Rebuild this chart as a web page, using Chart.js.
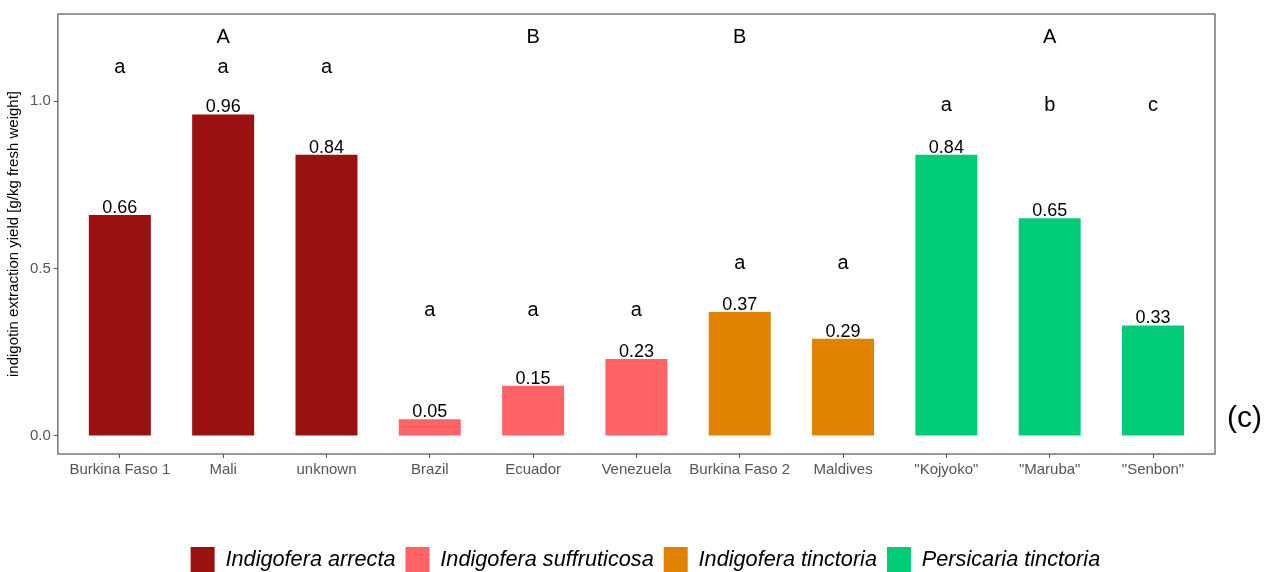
<!DOCTYPE html>
<html lang="en">
  <head>
    <meta charset="UTF-8" />
    <title>Indigotin extraction yield</title>
    <style>
      html, body { margin: 0; padding: 0; background: #fff; }
      .chartBox { width: 1266px; height: 572px; }
    </style>
  </head>
  <body>
    <div class="chartBox">
      <canvas id="myChart"></canvas>
    </div>
    <script src="https://cdn.jsdelivr.net/npm/chart.js"></script>
    <script>
      // data
      const categories = ["Burkina Faso 1", "Mali", "unknown", "Brazil", "Ecuador", "Venezuela",
        "Burkina Faso 2", "Maldives", "\"Kojyoko\"", "\"Maruba\"", "\"Senbon\""];
      const yields = [0.66, 0.96, 0.84, 0.05, 0.15, 0.23, 0.37, 0.29, 0.84, 0.65, 0.33];
      const speciesOf = [0, 0, 0, 1, 1, 1, 2, 2, 3, 3, 3];
      const species = ["Indigofera arrecta", "Indigofera suffruticosa", "Indigofera tinctoria", "Persicaria tinctoria"];
      const speciesColors = ["#9b1111", "#ff6366", "#e08200", "#00cc78"];
      // significance letters (per accession) and their heights
      const sigLetters = ["a", "a", "a", "a", "a", "a", "a", "a", "a", "b", "c"];
      const sigY = [1.099, 1.099, 1.099, 0.374, 0.374, 0.374, 0.515, 0.515, 0.988, 0.988, 0.988];
      // group letters (per species)
      const groupLetters = ["A", "B", "B", "A"];
      const groupAt = [1, 4, 6, 9];
      const groupY = 1.189;
      const yTicks = [0, 0.5, 1.0];

      const FONT = "'Liberation Sans', Arial, sans-serif";

      const datasets = species.map(function (name, s) {
        const pts = [];
        for (let i = 0; i < yields.length; i++) {
          if (speciesOf[i] === s) pts.push({ x: i, y: yields[i] });
        }
        return {
          label: name,
          data: pts,
          backgroundColor: speciesColors[s],
          borderWidth: 0,
          grouped: false,
          barPercentage: 0.6,
          categoryPercentage: 1,
        };
      });

      const annotations = {
        id: "annotations",
        afterLayout(chart) {
          // legend sits a bit right of the panel centre in the original
          chart.legend.left += 9;
          chart.legend.right += 9;
        },
        afterDatasetsDraw(chart) {
          const ctx = chart.ctx;
          const xs = chart.scales.x;
          const ys = chart.scales.y;
          ctx.save();
          ctx.fillStyle = "#000";
          ctx.textAlign = "center";
          // value labels
          ctx.font = "18px " + FONT;
          ctx.textBaseline = "alphabetic";
          chart.data.datasets.forEach(function (ds, di) {
            chart.getDatasetMeta(di).data.forEach(function (el, k) {
              ctx.fillText(ds.data[k].y.toFixed(2), el.x, el.y - 2);
            });
          });
          // letters
          ctx.font = "20px " + FONT;
          ctx.textBaseline = "middle";
          for (let i = 0; i < sigLetters.length; i++) {
            ctx.fillText(sigLetters[i], xs.getPixelForValue(i), ys.getPixelForValue(sigY[i]));
          }
          for (let g = 0; g < groupLetters.length; g++) {
            ctx.fillText(groupLetters[g], xs.getPixelForValue(groupAt[g]), ys.getPixelForValue(groupY));
          }
          // panel box
          const a = chart.chartArea;
          ctx.strokeStyle = "#555";
          ctx.lineWidth = 1.2;
          ctx.strokeRect(a.left, a.top, a.right - a.left, a.bottom - a.top);
          // panel tag
          ctx.font = "30px " + FONT;
          ctx.textAlign = "left";
          ctx.fillText("(c)", a.right + 12, ys.getPixelForValue(0.05));
          ctx.restore();
        },
      };

      const ctx = document.getElementById("myChart").getContext("2d");
      const myChart = new Chart(ctx, {
        type: "bar",
        data: { datasets: datasets },
        options: {
          responsive: true,
          maintainAspectRatio: false,
          animation: false,
          layout: { padding: { left: 0, right: 51, top: 14, bottom: -10 } },
          scales: {
            x: {
              type: "linear",
              offset: false,
              min: -0.6,
              max: 10.6,
              afterBuildTicks: function (axis) {
                axis.ticks = categories.map(function (c, i) { return { value: i }; });
              },
              afterFit: function (axis) { axis.height += 55; },
              ticks: {
                autoSkip: false,
                maxRotation: 0,
                padding: 3,
                color: "#555",
                font: { family: FONT, size: 15 },
                callback: function (v) { return categories[v]; },
              },
              grid: { offset: false, drawOnChartArea: false, drawTicks: true, tickLength: 4, color: "#555" },
              border: { display: false },
            },
            y: {
              min: -0.054,
              max: 1.26,
              afterBuildTicks: function (axis) {
                axis.ticks = yTicks.map(function (v) { return { value: v }; });
              },
              ticks: {
                padding: 3,
                color: "#555",
                font: { family: FONT, size: 15 },
                callback: function (v) { return v.toFixed(1); },
              },
              grid: { drawOnChartArea: false, drawTicks: true, tickLength: 4, color: "#555" },
              border: { display: false },
              title: {
                display: true,
                text: "indigotin extraction yield [g/kg fresh weight]",
                color: "#000",
                font: { family: FONT, size: 15 },
                padding: { top: 5, bottom: 4 },
              },
            },
          },
          plugins: {
            legend: {
              position: "bottom",
              fullSize: false,
              labels: {
                boxWidth: 24,
                boxHeight: 25,
                padding: 10,
                color: "#000",
                font: { family: FONT, size: 21.7, style: "italic" },
              },
            },
            tooltip: { enabled: false },
          },
        },
        plugins: [annotations],
      });
    </script>
  </body>
</html>
